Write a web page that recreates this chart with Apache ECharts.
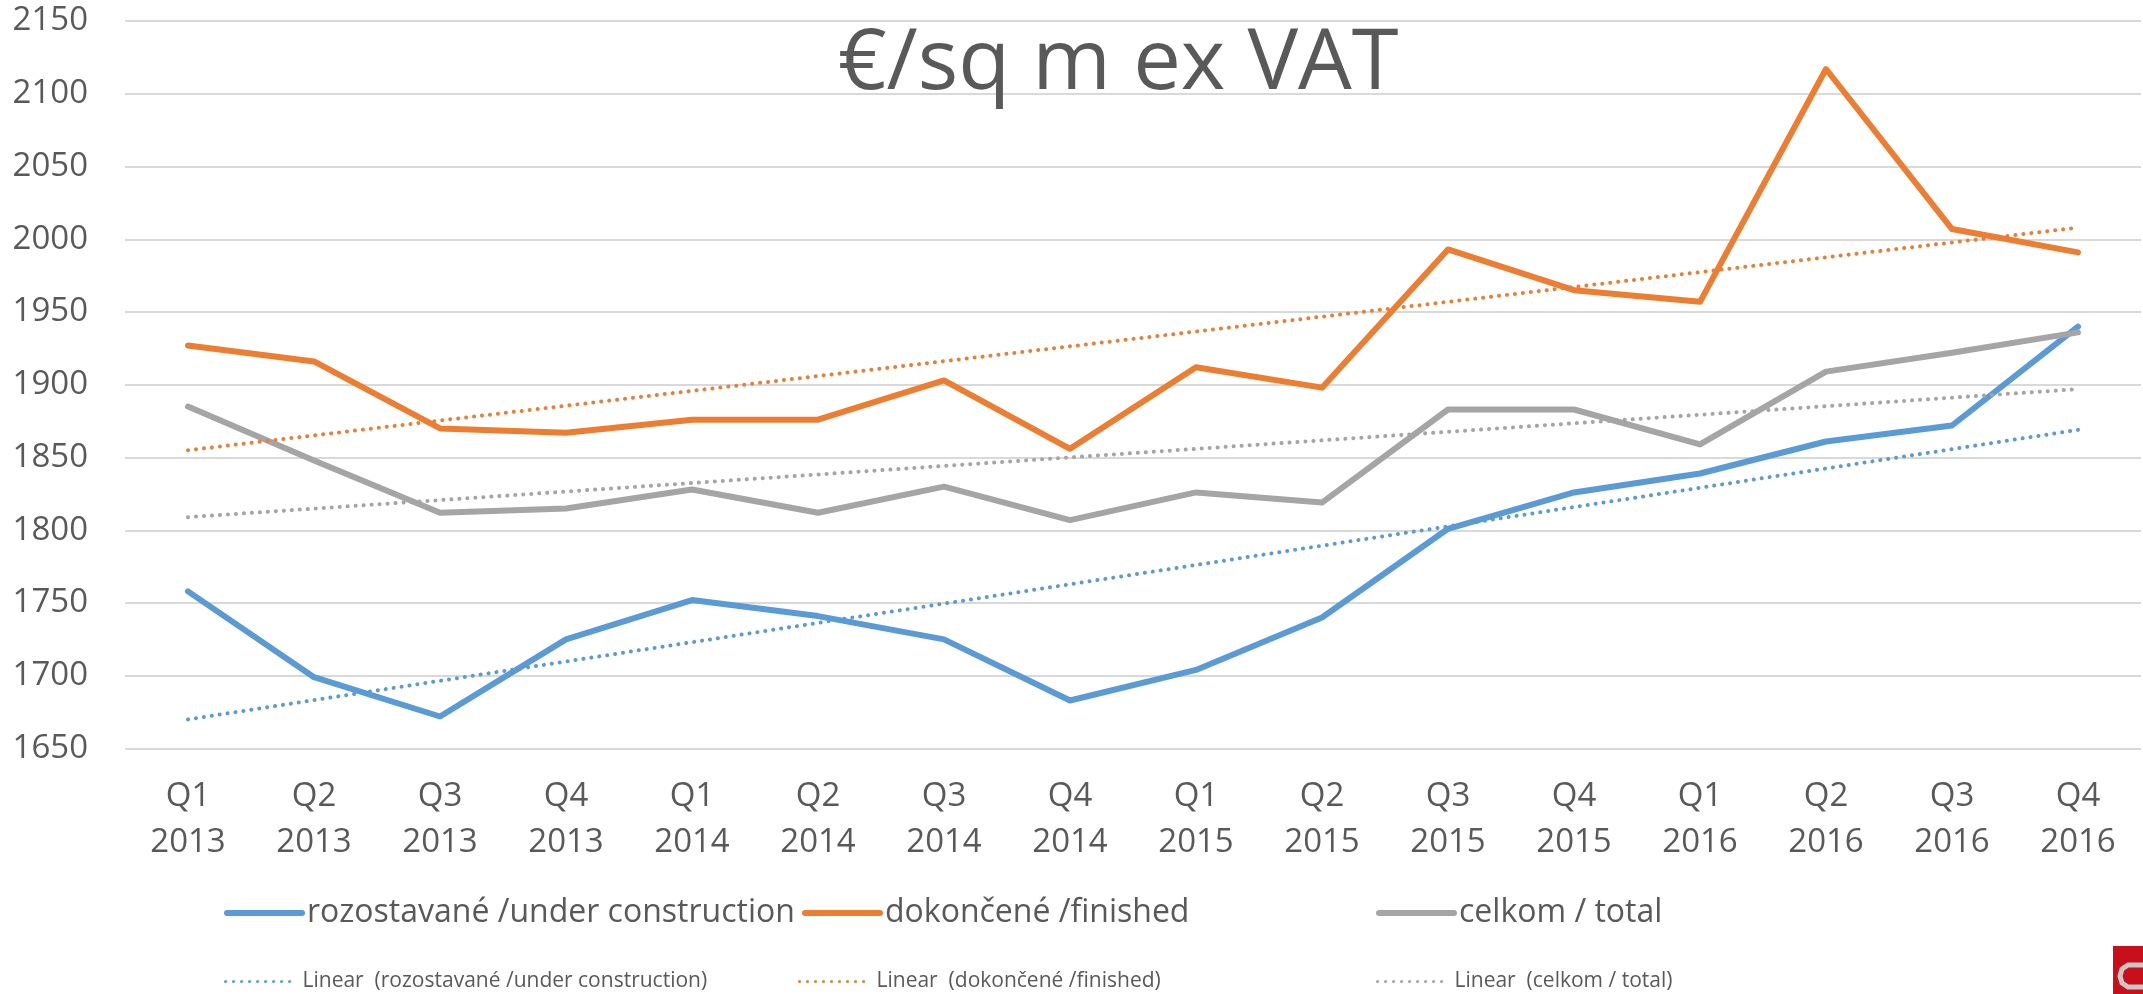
<!DOCTYPE html>
<html>
<head>
<meta charset="utf-8">
<script src="https://cdn.jsdelivr.net/npm/echarts@6/dist/echarts.min.js"></script>
<style>
html,body{margin:0;padding:0;background:#fff;}
#chart{width:2143px;height:994px;}
</style>
</head>
<body>
<div id="chart"></div>
<script>
// ---- data ----
var quarters = ["Q1","Q2","Q3","Q4","Q1","Q2","Q3","Q4","Q1","Q2","Q3","Q4","Q1","Q2","Q3","Q4"];
var years = ["2013","2013","2013","2013","2014","2014","2014","2014","2015","2015","2015","2015","2016","2016","2016","2016"];
var seriesNames = ["rozostavané /under construction", "dokončené /finished", "celkom / total"];
var trendNames = ["Linear  (rozostavané /under construction)", "Linear  (dokončené /finished)", "Linear  (celkom / total)"];
var underConstruction = [1758, 1699, 1672, 1725, 1752, 1741, 1725, 1683, 1704, 1740, 1801, 1826, 1839, 1861, 1872, 1940];
var finished = [1927, 1916, 1870, 1867, 1876, 1876, 1903, 1856, 1912, 1898, 1993, 1965, 1957, 2117, 2007, 1991];
var total = [1885, 1848, 1812, 1815, 1828, 1812, 1830, 1807, 1826, 1819, 1883, 1883, 1859, 1909, 1922, 1936];
// trendline endpoints (first and last category)
var trendUnder = [1670, 1869];
var trendFinished = [1855, 2008];
var trendTotal = [1809, 1897];
var yTicks = {min: 1650, max: 2150, interval: 50};
var titleText = "€/sq m ex VAT";

var colors = ["#5B9BD5", "#ED7D31", "#A5A5A5"];
var textColor = "#595959";
var categories = quarters.map(function(q, i){ return q + "\n" + years[i]; });
var lastIdx = categories.length - 1;

function mainSeries(name, data, color){
  return {
    name: name, type: "line", data: data, symbol: "none",
    lineStyle: {color: color, width: 6, join: "round", cap: "round"},
    itemStyle: {color: color}, z: 3
  };
}
function trendSeries(name, ends, color){
  return {
    name: name, type: "line", data: [[0, ends[0]], [lastIdx, ends[1]]], symbol: "none",
    lineStyle: {color: color, width: 4, type: [0.1, 7.9], cap: "round"},
    itemStyle: {color: color}, z: 4
  };
}
function legendItem(name, left, top, w, fs, lw){
  return {
    data: [name], left: left, top: top, itemWidth: w, itemHeight: 12, itemGap: 0,
    selectedMode: false,
    itemStyle: {opacity: 0},
    lineStyle: {width: lw},
    textStyle: {color: textColor, fontSize: fs, fontFamily: "Open Sans"}
  };
}

var chart = echarts.init(document.getElementById("chart"));
chart.setOption({
  animation: false,
  backgroundColor: "#fff",
  title: {
    text: titleText, left: 833, top: 17,
    textStyle: {color: textColor, fontSize: 85, fontWeight: "normal", fontFamily: "Open Sans"}
  },
  grid: {left: 125, right: 2, top: 21, bottom: 245.5},
  legend: [
    legendItem(seriesNames[0], 219, 892, 75, 32, 6),
    legendItem(seriesNames[1], 797, 892, 75, 32, 6),
    legendItem(seriesNames[2], 1371, 892, 75, 32, 6),
    legendItem(trendNames[0], 219, 966, 72, 21, 3),
    legendItem(trendNames[1], 793, 966, 72, 21, 3),
    legendItem(trendNames[2], 1371, 966, 72, 21, 3)
  ],
  xAxis: {
    type: "category", data: categories, boundaryGap: true,
    axisLine: {show: false}, axisTick: {show: false},
    axisLabel: {color: textColor, fontSize: 33, fontFamily: "Open Sans", lineHeight: 46, margin: 25, interval: 0}
  },
  yAxis: {
    type: "value", min: yTicks.min, max: yTicks.max, interval: yTicks.interval,
    axisLine: {show: false}, axisTick: {show: false},
    axisLabel: {color: textColor, fontSize: 33, fontFamily: "Open Sans", margin: 37,
      formatter: function(v){ return String(v); }},
    splitLine: {lineStyle: {color: "#D9D9D9", width: 2}}
  },
  series: [
    mainSeries(seriesNames[0], underConstruction, colors[0]),
    mainSeries(seriesNames[1], finished, colors[1]),
    mainSeries(seriesNames[2], total, colors[2]),
    trendSeries(trendNames[0], trendUnder, colors[0]),
    trendSeries(trendNames[1], trendFinished, colors[1]),
    trendSeries(trendNames[2], trendTotal, colors[2])
  ],
  graphic: [
    {type: "rect", shape: {x: 2113, y: 946, width: 30, height: 48},
     style: {fill: "#C8101C"}},
    {type: "polyline", shape: {points: [[2143, 965], [2128, 965], [2122, 969], [2120, 976], [2122, 983], [2128, 987], [2143, 987]]},
     style: {fill: null, stroke: "#C8C8C8", lineWidth: 5}}
  ]
});
</script>
</body>
</html>
